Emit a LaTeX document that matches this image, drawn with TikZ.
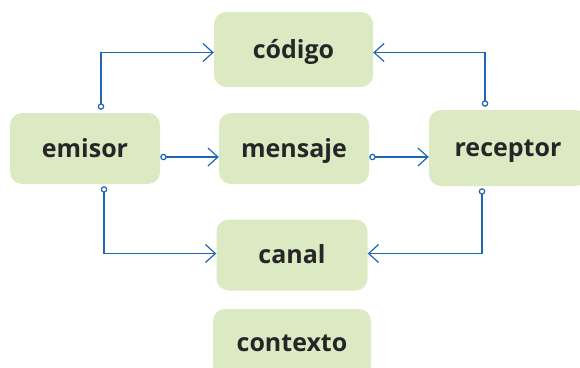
\documentclass[tikz,border=0pt]{standalone}
\usepackage{fontspec}
\setsansfont{Open Sans}
\usepackage{xcolor}
\usetikzlibrary{positioning,arrows.meta}
\definecolor{boxgreen}{HTML}{DCEAC4}
\definecolor{linkblue}{HTML}{1F66B4}

\begin{document}
\begin{tikzpicture}[x=1pt,y=-1pt,
  box/.style={fill=boxgreen,rounded corners=12pt,minimum width=150pt,minimum height=72pt,
    text height=17pt,text depth=0pt,
    font=\sffamily\bfseries\fontsize{25}{28}\selectfont,text=black!85},
  link/.style={draw=linkblue,line width=1.2pt,
    {Circle[open,length=6.5pt,fill=white]}-{Straight Barb[length=10pt,width=18pt]}}]
\useasboundingbox (0,0) rectangle (580,367);

\node[box,minimum width=159pt,minimum height=75pt] (codigo) at (293.5,49.5) {código};
\node[box,minimum height=71pt] (emisor) at (85,148.5) {emisor};
\node[box,minimum height=71pt] (mensaje) at (294,148.5) {mensaje};
\node[box,minimum width=158pt,minimum height=76pt] (receptor) at (508,148) {receptor};
\node[box,minimum width=151pt,minimum height=71pt] (canal) at (292,255) {canal};
\node[box,minimum width=158pt,minimum height=68pt] (contexto) at (292,343) {contexto};

\draw[link,shorten <=3pt] ([xshift=16pt]emisor.north) |- ([yshift=-3pt]codigo.west);
\draw[link,shorten <=3pt] ([xshift=-23pt]receptor.north) |- ([yshift=-3pt]codigo.east);
\draw[link] ([yshift=-8.5pt]emisor.east) -- ([yshift=-8.5pt]mensaje.west);
\draw[link] ([yshift=-8.5pt]mensaje.east) -- ([yshift=-9pt]receptor.west);
\draw[link,shorten <=2pt] ([xshift=19pt]emisor.south) |- ([yshift=1.5pt]canal.west);
\draw[link,shorten <=2pt] ([xshift=-26pt]receptor.south) |- ([yshift=1.5pt]canal.east);
\end{tikzpicture}
\end{document}
